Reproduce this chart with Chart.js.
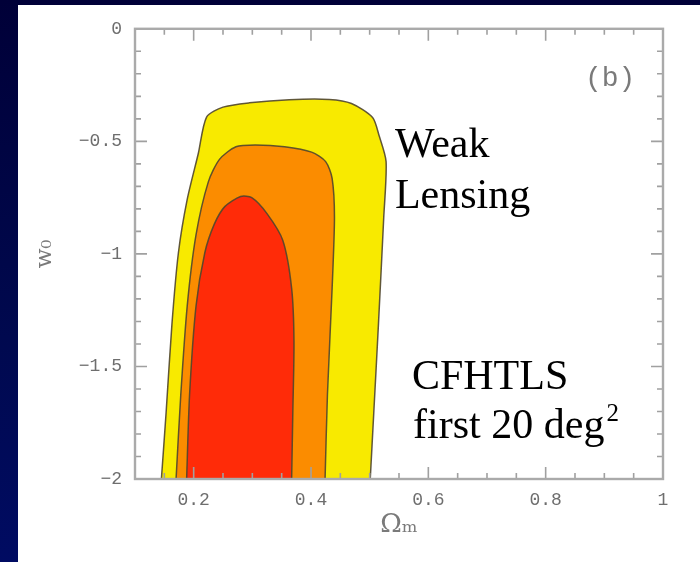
<!DOCTYPE html>
<html>
<head>
<meta charset="utf-8">
<script src="https://cdn.jsdelivr.net/npm/chart.js@4.4.1/dist/chart.umd.min.js"></script>
<style>
  html, body { margin: 0; padding: 0; }
  body {
    width: 700px; height: 562px; overflow: hidden; position: relative;
    background: linear-gradient(to bottom, #000038 0%, #00094f 60%, #000b62 100%);
  }
  #panel { position: absolute; left: 18px; top: 5px; width: 682px; height: 557px; background: #fff; }
  #chart { display: block; }
</style>
</head>
<body>
<div id="panel"><canvas id="chart" width="682" height="557"></canvas></div>
<script>
// contour outlines (Omega_m, w0), all cut by the bottom of the plot at w0 = -2
var yellowX = [0.145, 0.153, 0.163, 0.174, 0.189, 0.208, 0.222, 0.250, 0.295, 0.363, 0.431, 0.469, 0.505, 0.516, 0.528, 0.524, 0.515, 0.507, 0.501];
var yellowY = [-2, -1.706, -1.311, -0.995, -0.758, -0.553, -0.392, -0.348, -0.329, -0.315, -0.314, -0.332, -0.394, -0.474, -0.590, -0.837, -1.311, -1.706, -2];

var orangeX = [0.170, 0.178, 0.189, 0.204, 0.225, 0.244, 0.272, 0.305, 0.355, 0.401, 0.425, 0.436, 0.440, 0.436, 0.428, 0.424];
var orangeY = [-2, -1.627, -1.232, -0.916, -0.680, -0.580, -0.524, -0.516, -0.524, -0.548, -0.590, -0.664, -0.837, -1.153, -1.627, -2];

var redX = [0.188, 0.193, 0.204, 0.219, 0.235, 0.253, 0.280, 0.299, 0.325, 0.352, 0.367, 0.371, 0.369, 0.367];
var redY = [-2, -1.627, -1.232, -0.995, -0.869, -0.790, -0.745, -0.750, -0.821, -0.940, -1.153, -1.390, -1.706, -2];

// axes
var xTicks = [0.2, 0.4, 0.6, 0.8, 1];
var xMinor = [0.15, 0.25, 0.3, 0.35, 0.45, 0.5, 0.55, 0.65, 0.7, 0.75, 0.85, 0.9, 0.95];
var yTicks = [0, -0.5, -1, -1.5, -2];
var yMinor = [-0.1, -0.2, -0.3, -0.4, -0.6, -0.7, -0.8, -0.9, -1.1, -1.2, -1.3, -1.4, -1.6, -1.7, -1.8, -1.9];

function pts(xs, ys) {
  return xs.map(function(v, i){ return {x: v, y: ys[i]}; });
}

var edge = 'rgba(80,70,45,0.9)';
var tickFont = {family: 'Liberation Mono', size: 18};

// inward ticks and the box round the plot
var frameTicks = {
  id: 'frameTicks',
  afterDatasetsDraw: function(chart){
    var ctx = chart.ctx, a = chart.chartArea;
    var x = chart.scales.x, y = chart.scales.y;
    ctx.save();
    ctx.strokeStyle = '#a0a0a0';
    ctx.lineWidth = 1.6;
    ctx.beginPath();
    function xt(v, len){
      var px = x.getPixelForValue(v);
      ctx.moveTo(px, a.bottom); ctx.lineTo(px, a.bottom - len);
      ctx.moveTo(px, a.top); ctx.lineTo(px, a.top + len);
    }
    function yt(v, len){
      var py = y.getPixelForValue(v);
      ctx.moveTo(a.left, py); ctx.lineTo(a.left + len, py);
      ctx.moveTo(a.right, py); ctx.lineTo(a.right - len, py);
    }
    xTicks.forEach(function(v){ xt(v, 12); });
    xMinor.forEach(function(v){ xt(v, 6); });
    yTicks.forEach(function(v){ yt(v, 12); });
    yMinor.forEach(function(v){ yt(v, 6); });
    ctx.stroke();
    ctx.lineWidth = 2.4;
    ctx.strokeStyle = '#aaaaaa';
    ctx.strokeRect(a.left, a.top, a.right - a.left, a.bottom - a.top);
    ctx.restore();
  },
  afterDraw: function(chart){
    var ctx = chart.ctx;
    var x = chart.scales.x, y = chart.scales.y;
    ctx.save();
    ctx.fillStyle = '#7a7a7a';
    ctx.font = '28px "Liberation Mono"';
    ctx.textAlign = 'center';
    ctx.textBaseline = 'middle';
    ctx.fillText('(b)', x.getPixelForValue(0.91), y.getPixelForValue(-0.22));

    ctx.fillStyle = '#000';
    ctx.textAlign = 'left';
    ctx.textBaseline = 'alphabetic';
    ctx.font = '42px "Liberation Serif"';
    ctx.fillText('Weak', x.getPixelForValue(0.543), y.getPixelForValue(-0.570));
    ctx.fillText('Lensing', x.getPixelForValue(0.543), y.getPixelForValue(-0.798));
    ctx.fillText('CFHTLS', x.getPixelForValue(0.572), y.getPixelForValue(-1.601));
    var fx = x.getPixelForValue(0.574), fy = y.getPixelForValue(-1.820);
    ctx.fillText('first 20 deg', fx, fy);
    var w = ctx.measureText('first 20 deg').width;
    ctx.font = '25px "Liberation Serif"';
    ctx.fillText('2', fx + w + 2, fy - 17);
    ctx.restore();
  }
};

new Chart(document.getElementById('chart'), {
  type: 'scatter',
  data: {
    datasets: [
      {label: '68%', data: pts(redX, redY), order: 1, showLine: true, fill: 'shape', tension: 0.25,
       backgroundColor: '#ff2b08', borderColor: edge, borderWidth: 1.5, pointRadius: 0},
      {label: '95%', data: pts(orangeX, orangeY), order: 2, showLine: true, fill: 'shape', tension: 0.25,
       backgroundColor: '#fb8c00', borderColor: edge, borderWidth: 1.5, pointRadius: 0},
      {label: '99%', data: pts(yellowX, yellowY), order: 3, showLine: true, fill: 'shape', tension: 0.25,
       backgroundColor: '#f8ea00', borderColor: edge, borderWidth: 1.5, pointRadius: 0}
    ]
  },
  options: {
    responsive: false,
    animation: false,
    layout: {padding: {top: 18, right: 37, bottom: 21, left: 6}},
    plugins: {legend: {display: false}, tooltip: {enabled: false}},
    scales: {
      x: {
        type: 'linear', min: 0.1, max: 1,
        afterBuildTicks: function(s){ s.ticks = xTicks.map(function(v){ return {value: v}; }); },
        afterFit: function(s){ s.height = 62; },
        grid: {display: false, drawTicks: false},
        border: {display: false},
        ticks: {color: '#6e6e6e', font: tickFont, padding: 10, maxRotation: 0,
          callback: function(v){ return String(v); }},
        title: {display: true, text: 'Ωₘ', color: '#7a7a7a', font: {family: 'DejaVu Serif', size: 26},
          padding: {top: 0, bottom: 0}}
      },
      y: {
        type: 'linear', min: -2, max: 0,
        afterBuildTicks: function(s){ s.ticks = yTicks.map(function(v){ return {value: v}; }); },
        afterFit: function(s){ s.width = 111; },
        grid: {display: false, drawTicks: false},
        border: {display: false},
        ticks: {color: '#6e6e6e', font: tickFont, padding: 13,
          callback: function(v){ return String(v).replace('-', '\u2212'); }},
        title: {display: true, text: 'w₀', color: '#7a7a7a', font: {family: 'DejaVu Serif', size: 23},
          padding: {top: 7, bottom: 0}}
      }
    }
  },
  plugins: [frameTicks]
});
</script>
</body>
</html>
